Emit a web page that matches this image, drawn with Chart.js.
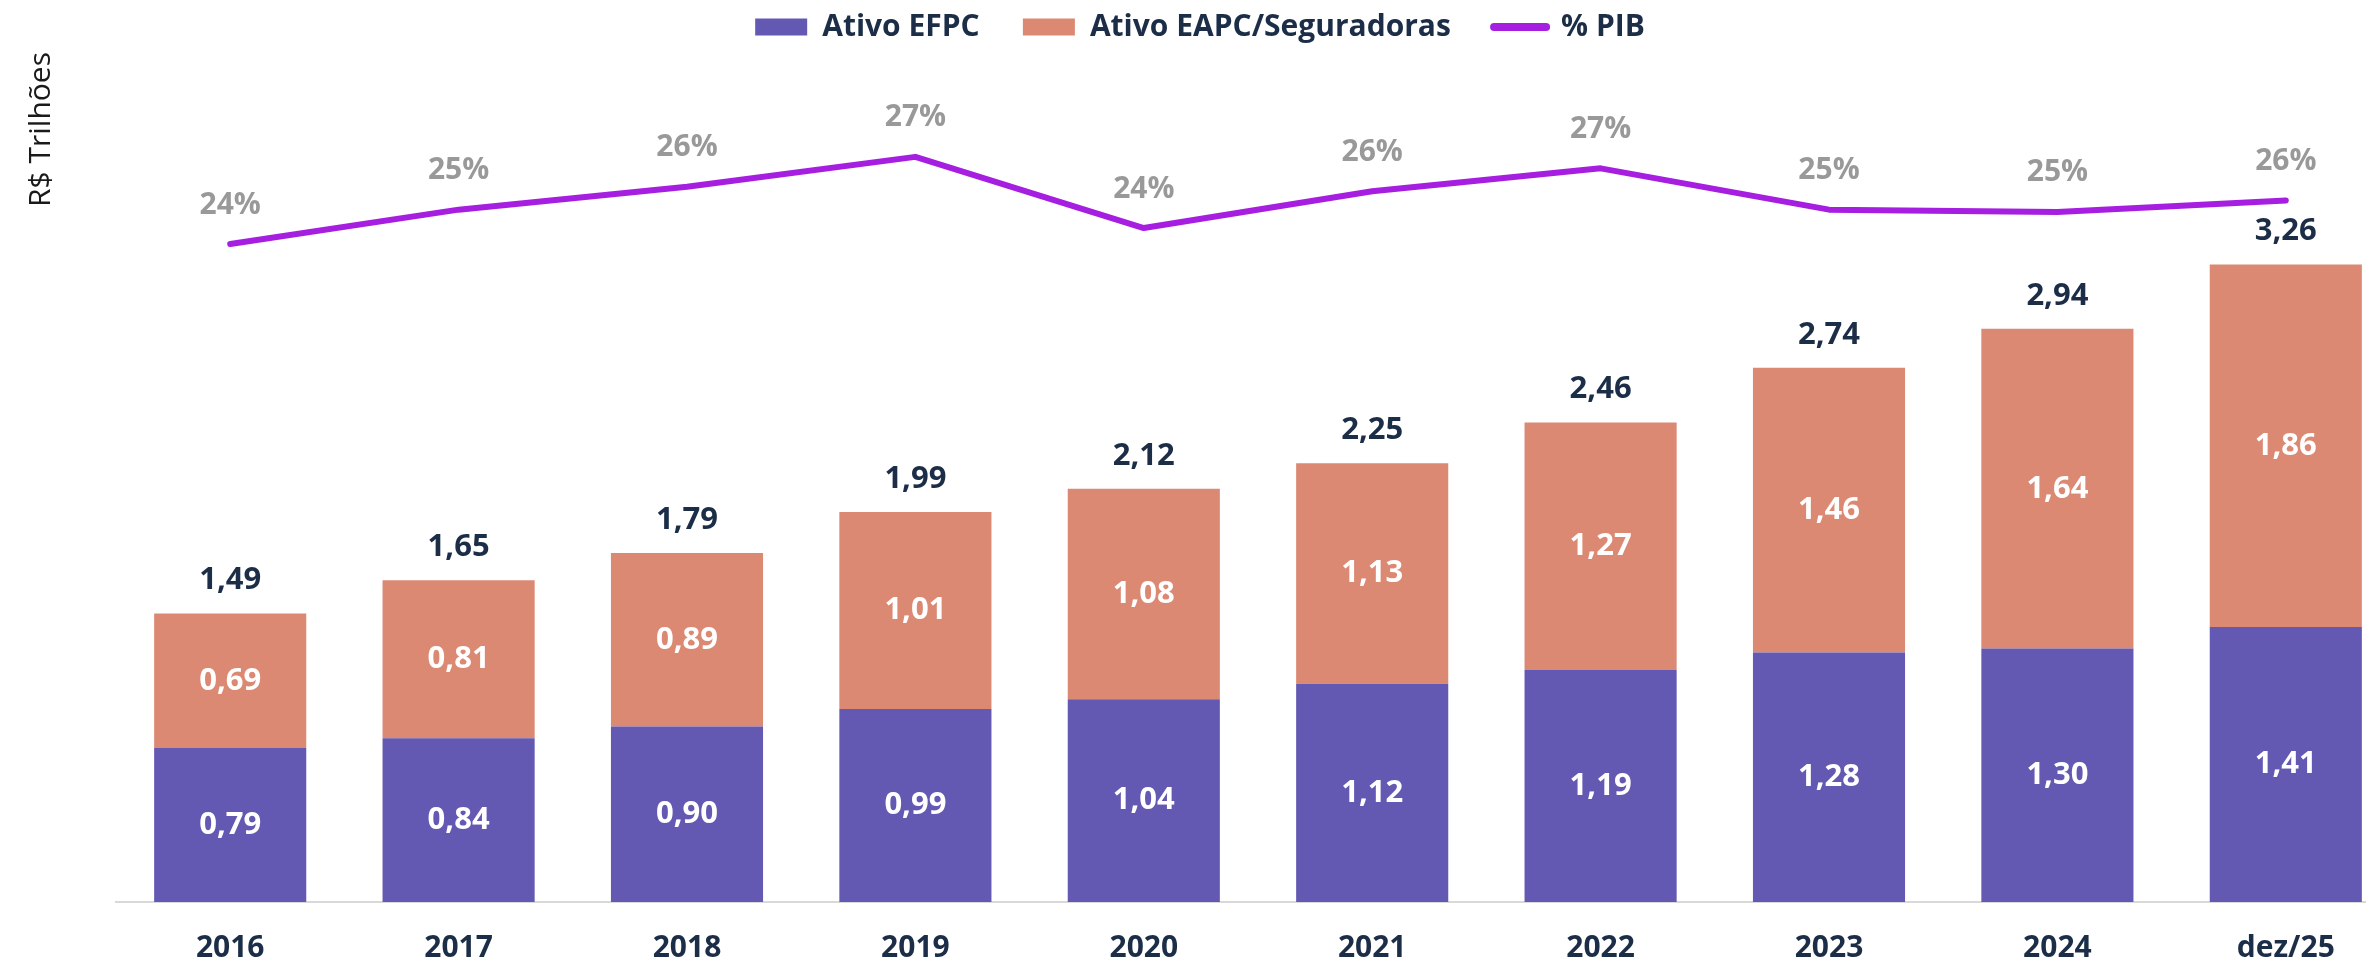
<!DOCTYPE html>
<html>
<head>
<meta charset="utf-8">
<script src="https://cdn.jsdelivr.net/npm/chart.js@4/dist/chart.umd.min.js"></script>
<style>
  html, body { margin: 0; padding: 0; overflow: hidden; background: #fff; }
  #wrap { width: 2400px; height: 961px; position: relative; }
</style>
</head>
<body>
<div id="wrap"><canvas id="chart"></canvas></div>
<script>
const categories = ['2016', '2017', '2018', '2019', '2020', '2021', '2022', '2023', '2024', 'dez/25'];
const ativoEFPC = [0.79, 0.84, 0.90, 0.99, 1.04, 1.12, 1.19, 1.28, 1.30, 1.41];
const ativoEAPC = [0.69, 0.81, 0.89, 1.01, 1.08, 1.13, 1.27, 1.46, 1.64, 1.86];
const totals = [1.49, 1.65, 1.79, 1.99, 2.12, 2.25, 2.46, 2.74, 2.94, 3.26];
const pibValues = [23.6, 25.1, 26.1, 27.4, 24.3, 25.9, 26.9, 25.1, 25.0, 25.5];

const colorEFPC = '#6359b3';
const colorEAPC = '#db8973';
const colorPIB = '#a61fe0';
const navy = '#1b2d47';

Chart.defaults.font.family = "'Open Sans', sans-serif";

function fmt(v) {
  return v.toFixed(2).replace('.', ',');
}

const valueLabels = {
  id: 'valueLabels',
  afterDatasetsDraw(chart) {
    const ctx = chart.ctx;
    ctx.save();
    ctx.textAlign = 'center';
    ctx.textBaseline = 'middle';
    ctx.font = "bold 31px 'Open Sans'";

    // values inside the stacked segments
    [0, 1].forEach(di => {
      const meta = chart.getDatasetMeta(di);
      meta.data.forEach((bar, i) => {
        const p = bar.getProps(['x', 'y', 'base'], true);
        ctx.fillStyle = '#ffffff';
        ctx.fillText(fmt(chart.data.datasets[di].data[i]), p.x, (p.y + p.base) / 2);
      });
    });

    // totals on top
    chart.getDatasetMeta(1).data.forEach((bar, i) => {
      ctx.fillStyle = navy;
      ctx.fillText(fmt(totals[i]), bar.x, bar.y - 33);
    });

    // % PIB
    ctx.font = "bold 30px 'Open Sans'";
    chart.getDatasetMeta(2).data.forEach((pt, i) => {
      ctx.fillStyle = '#999999';
      ctx.fillText(Math.round(pibValues[i]) + '%', pt.x, pt.y - 39);
    });
    ctx.restore();
  }
};

new Chart(document.getElementById('chart'), {
  type: 'bar',
  data: {
    labels: categories,
    datasets: [
      {
        label: 'Ativo EFPC',
        data: ativoEFPC,
        backgroundColor: colorEFPC,
        yAxisID: 'y',
        stack: 'ativos',
        order: 2,
        categoryPercentage: 1,
        barPercentage: 0.666
      },
      {
        label: 'Ativo EAPC/Seguradoras',
        data: ativoEAPC,
        backgroundColor: colorEAPC,
        yAxisID: 'y',
        stack: 'ativos',
        order: 2,
        categoryPercentage: 1,
        barPercentage: 0.666
      },
      {
        type: 'line',
        label: '% PIB',
        data: pibValues,
        borderColor: colorPIB,
        backgroundColor: colorPIB,
        borderWidth: 6,
        borderCapStyle: 'round',
        borderJoinStyle: 'round',
        tension: 0,
        pointRadius: 0,
        yAxisID: 'y2',
        order: 1
      }
    ]
  },
  options: {
    responsive: true,
    maintainAspectRatio: false,
    animation: false,
    layout: { padding: { left: 0, right: 0, top: 0, bottom: -33 } },
    plugins: {
      tooltip: { enabled: false },
      legend: {
        position: 'top',
        labels: {
          usePointStyle: true,
          pointStyleWidth: 52,
          boxHeight: 17,
          padding: 12,
          color: navy,
          font: { size: 30, weight: 'bold' },
          generateLabels(chart) {
            return [
              { text: 'Ativo EFPC    ', fillStyle: colorEFPC, strokeStyle: colorEFPC, lineWidth: 0, pointStyle: 'rect', datasetIndex: 0, fontColor: navy },
              { text: 'Ativo EAPC/Seguradoras    ', fillStyle: colorEAPC, strokeStyle: colorEAPC, lineWidth: 0, pointStyle: 'rect', datasetIndex: 1, fontColor: navy },
              { text: '% PIB', fillStyle: colorPIB, strokeStyle: colorPIB, lineWidth: 8, lineCap: 'round', pointStyle: 'line', datasetIndex: 2, fontColor: navy }
            ];
          }
        }
      }
    },
    scales: {
      x: {
        stacked: true,
        grid: { display: false, drawTicks: false },
        border: { display: true, color: '#d9d9d9', width: 2 },
        ticks: {
          color: navy,
          padding: 28,
          font: { size: 30, weight: 'bold' }
        }
      },
      y: {
        stacked: true,
        min: 0,
        max: 4.36,
        grid: { display: false, drawTicks: false },
        border: { display: false },
        ticks: { display: false },
        title: {
          display: true,
          text: 'R$ Trilhões',
          align: 'end',
          color: '#1a1a1a',
          font: { size: 30 },
          padding: { top: 23, bottom: 57 }
        }
      },
      y2: {
        display: false,
        min: -5.07,
        max: 31.97
      }
    }
  },
  plugins: [valueLabels]
});
</script>
</body>
</html>
